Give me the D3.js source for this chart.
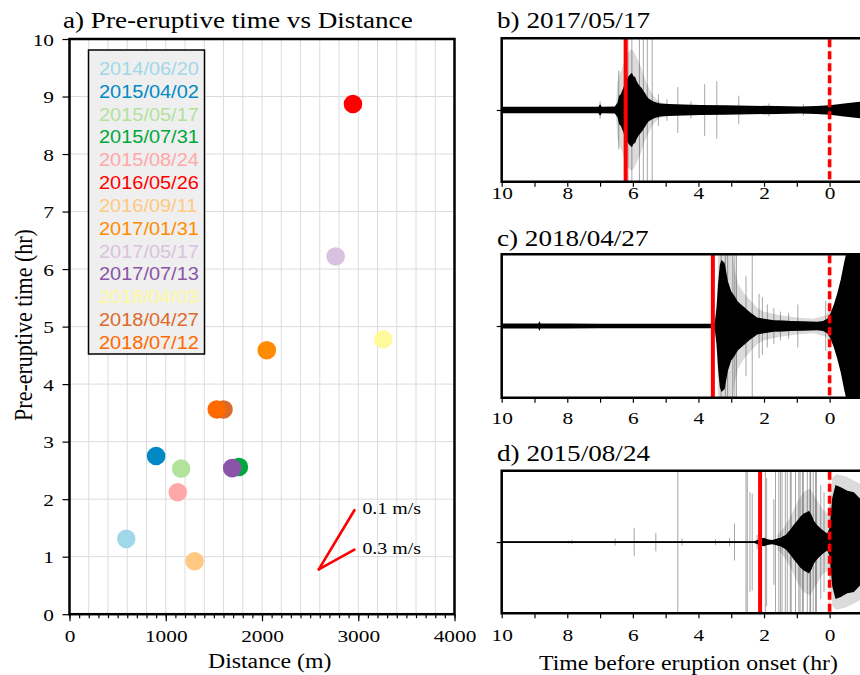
<!DOCTYPE html>
<html>
<head>
<meta charset="utf-8">
<script src="https://cdn.jsdelivr.net/npm/d3@7"></script>
<style>
  body { margin: 0; background: #fff; }
  svg { display: block; }
</style>
</head>
<body>
<div id="chart"></div>
<script>
// --- data: eruptions (panel a) ---
const dates = ["2014/06/20", "2015/04/02", "2015/05/17", "2015/07/31", "2015/08/24", "2016/05/26", "2016/09/11",
               "2017/01/31", "2017/05/17", "2017/07/13", "2018/04/03", "2018/04/27", "2018/07/12"];
const distances = [590, 900, 1160, 1760, 1125, 2945, 1300, 2050, 2765, 1690, 3260, 1600, 1530]; // m
const preTimes = [1.31, 2.75, 2.53, 2.56, 2.12, 8.87, 0.92, 4.59, 6.22, 2.54, 4.78, 3.56, 3.56]; // hr
const colors = ["#a0d8ea", "#0089c4", "#b3e29c", "#00a83a", "#ffa8a8", "#ff0000", "#ffc981",
                "#ff8c00", "#d9c2df", "#8a54a8", "#fffa9c", "#dc6a2a", "#ff6a00"];

// reference velocity lines
const velocities = [0.1, 0.3]; // m/s
const velLabels = ["0.1 m/s", "0.3 m/s"];
const velStart = [2590, 0.78]; // [m, hr]
const velRun = 370; // m

const distTicks = [0, 1000, 2000, 3000, 4000];
const timeTicks = [0, 1, 2, 3, 4, 5, 6, 7, 8, 9, 10];
const traceTicks = [10, 8, 6, 4, 2, 0];

// --- data: seismograms, [hours before onset, relative amplitude] ---
const bEnvelope = [[10, 0.045], [9, 0.045], [8, 0.045], [7.05, 0.045], [7.0, 0.08], [6.95, 0.045], [6.55, 0.05],
  [6.47, 0.1], [6.42, 0.2], [6.37, 0.22], [6.3, 0.3], [6.22, 0.4], [6.13, 0.47], [6.08, 0.5], [6.03, 0.52],
  [5.98, 0.47], [5.93, 0.46], [5.88, 0.4], [5.83, 0.36], [5.78, 0.33], [5.72, 0.3], [5.67, 0.26], [5.62, 0.23],
  [5.57, 0.19], [5.52, 0.16], [5.45, 0.14], [5.37, 0.12], [5.25, 0.1], [5.16, 0.09], [4.9, 0.085], [4.45, 0.075],
  [3.94, 0.07], [3.2, 0.065], [2.41, 0.06], [1.6, 0.055], [0.89, 0.05], [0.4, 0.055], [0, 0.065], [-0.2, 0.075],
  [-0.44, 0.09], [-0.65, 0.1], [-0.85, 0.11], [-1, 0.12]];
const bHalo = [[6.52, 0.05], [6.47, 0.4], [6.42, 0.5], [6.35, 0.55], [6.25, 0.7], [6.15, 0.8], [6.05, 0.85],
  [5.95, 0.8], [5.85, 0.7], [5.75, 0.6], [5.65, 0.45], [5.55, 0.35], [5.45, 0.25], [5.35, 0.18], [5.2, 0.12], [5.0, 0.08]];
const bSpikes = [[7.0, 0.12], [6.43, 0.55], [6.15, 1], [6.03, 1], [5.8, 1], [5.68, 1], [5.56, 1], [5.41, 1],
  [5.22, 0.22], [4.96, 0.15], [4.63, 0.32], [4.23, 0.12], [3.81, 0.36], [3.44, 0.4], [2.77, 0.2], [1.85, 0.09], [0.8, 0.08]];

const cEnvelope = [[10, 0.035], [9, 0.035], [8.88, 0.035], [8.85, 0.07], [8.82, 0.035], [8, 0.035], [7, 0.03],
  [6, 0.03], [5, 0.03], [4, 0.03], [3.55, 0.03], [3.5, 0.06], [3.45, 0.25], [3.4, 0.6], [3.35, 0.85], [3.3, 0.92],
  [3.2, 0.88], [3.1, 0.62], [3.0, 0.48], [2.9, 0.42], [2.8, 0.34], [2.7, 0.3], [2.6, 0.26], [2.5, 0.22], [2.4, 0.18],
  [2.3, 0.15], [2.21, 0.12], [2.0, 0.1], [1.7, 0.08], [1.4, 0.075], [1.19, 0.07], [0.8, 0.065], [0.38, 0.06],
  [0.2, 0.07], [0.07, 0.1], [-0.03, 0.18], [-0.13, 0.3], [-0.23, 0.45], [-0.34, 0.65], [-0.44, 0.88], [-0.5, 1], [-1, 1]];
const cHalo = [[3.47, 0.1], [3.43, 0.45], [3.4, 1], [2.95, 1], [2.9, 0.8], [2.8, 0.6], [2.6, 0.45], [2.4, 0.35],
  [2.2, 0.25], [2.0, 0.2], [1.5, 0.15], [1.0, 0.12], [0.5, 0.1], [0.1, 0.15], [0, 0.25]];
const cSpikes = [[3.31, 1], [3.18, 1], [3.11, 1], [2.95, 1], [2.89, 1], [2.84, 1], [2.55, 0.7], [2.36, 1],
  [2.15, 0.45], [2.05, 0.4], [1.9, 0.3], [1.7, 0.25], [1.5, 0.2], [1.25, 0.18], [0.97, 0.3], [0.12, 0.35]];

const dEnvelope = [[10, 0.012], [2.3, 0.012], [2.2, 0.03], [2.1, 0.05], [2.0, 0.06], [1.9, 0.04], [1.75, 0.03],
  [1.6, 0.05], [1.5, 0.06], [1.42, 0.08], [1.34, 0.1], [1.19, 0.18], [1.1, 0.24], [0.99, 0.3], [0.89, 0.36],
  [0.79, 0.4], [0.7, 0.42], [0.63, 0.44], [0.55, 0.38], [0.48, 0.3], [0.38, 0.24], [0.27, 0.19], [0.17, 0.15],
  [0.07, 0.12], [0.0, 0.2], [-0.08, 0.62], [-0.18, 0.8], [-0.34, 0.77], [-0.54, 0.72], [-0.74, 0.7], [-0.95, 0.6], [-1, 0.6]];
const dHalo = [[1.6, 0.1], [1.4, 0.2], [1.2, 0.35], [1.0, 0.55], [0.8, 0.7], [0.6, 0.75], [0.4, 0.6], [0.2, 0.45],
  [0.05, 0.4], [0, 0.5], [-0.08, 0.9], [-0.2, 0.95], [-0.5, 0.92], [-0.8, 0.85], [-1, 0.8]];
const dSpikes = [[7.97, 0.02], [7.86, 0.03], [6.54, 0.05], [5.96, 0.2], [5.3, 0.13], [4.63, 1], [4.5, 0.05],
  [3.48, 0.04], [3.05, 0.06], [2.9, 0.26], [2.55, 1], [2.51, 1], [2.43, 0.7], [2.36, 0.68], [2.21, 0.1], [1.96, 1],
  [1.92, 0.9], [1.7, 0.6], [1.65, 1], [1.55, 1], [1.5, 1], [1.45, 1], [1.35, 1], [1.29, 1], [1.2, 1], [1.17, 1],
  [1.04, 1], [0.94, 1], [0.9, 1], [0.83, 1], [0.8, 1], [0.68, 1], [0.6, 1], [0.58, 1], [0.5, 1], [0.43, 1],
  [0.4, 1], [0.27, 0.8], [0.17, 0.7]];

const serif = "'Liberation Serif', 'Times New Roman', serif";
const sans = "'Liberation Sans', Arial, sans-serif";

// the reference lettering is a bit wider than Times, so widen the glyphs
function stretch(sel, k) {
  sel.each(function () {
    const w = this.getComputedTextLength();
    d3.select(this).attr("textLength", w * k).attr("lengthAdjust", "spacingAndGlyphs");
  });
}

const svg = d3.select("#chart").append("svg")
  .attr("width", 860)
  .attr("height", 675)
  .style("overflow", "hidden");

// ================= panel a =================
const x = d3.scaleLinear().domain([0, 4000]).range([69.5, 454.5]);
const y = d3.scaleLinear().domain([0, 10]).range([614.2, 39]);

const pa = svg.append("g");

// grid
pa.append("g").selectAll("line").data(d3.range(200, 4000, 200)).join("line")
  .attr("x1", d => x(d)).attr("x2", d => x(d))
  .attr("y1", y(0)).attr("y2", y(10))
  .attr("stroke", "#dcdcdc").attr("stroke-width", 1);
pa.append("g").selectAll("line").data(timeTicks.slice(1, -1)).join("line")
  .attr("x1", x(0)).attr("x2", x(4000))
  .attr("y1", d => y(d)).attr("y2", d => y(d))
  .attr("stroke", "#dcdcdc").attr("stroke-width", 1);

// axes
const xMinor = pa.append("g").attr("transform", `translate(0,${y(0)})`)
  .call(d3.axisBottom(x).tickValues(d3.range(0, 4001, 100)).tickSize(4).tickFormat(""));
const xMajor = pa.append("g").attr("transform", `translate(0,${y(0)})`)
  .call(d3.axisBottom(x).tickValues(distTicks).tickSize(7).tickFormat(d3.format("d")));
const yAxis = pa.append("g").attr("transform", `translate(${x(0)},0)`)
  .call(d3.axisLeft(y).tickValues(timeTicks).tickSize(7).tickFormat(d3.format("d")));
[xMinor, xMajor, yAxis].forEach(g => {
  g.select(".domain").remove();
  g.selectAll("line").attr("stroke", "#000").attr("stroke-width", 1.2);
  g.selectAll("text").attr("font-family", serif).attr("font-size", 17.5).attr("fill", "#000");
});
xMajor.selectAll("text").attr("y", 27.5).attr("dy", 0);
yAxis.selectAll("text").attr("x", -15.5).attr("dy", "0.35em");
stretch(xMajor.selectAll("text"), 1.22);
stretch(yAxis.selectAll("text"), 1.22);

// frame
pa.append("rect")
  .attr("x", x(0)).attr("y", y(10))
  .attr("width", x(4000) - x(0)).attr("height", y(0) - y(10))
  .attr("fill", "none").attr("stroke", "#000").attr("stroke-width", 2.5);

// legend
pa.append("rect")
  .attr("x", 88.5).attr("y", 50).attr("width", 116).attr("height", 304)
  .attr("fill", "#efefef").attr("stroke", "#000").attr("stroke-width", 1.5);
const legendText = pa.append("g").selectAll("text").data(dates).join("text")
  .attr("x", 99)
  .attr("y", (d, i) => 75 + i * 22.83)
  .attr("font-family", sans).attr("font-size", 17.5)
  .attr("fill", (d, i) => colors[i])
  .text(d => d);
stretch(legendText, 1.14);

// points
pa.append("g").selectAll("circle").data(dates).join("circle")
  .attr("cx", (d, i) => x(distances[i]))
  .attr("cy", (d, i) => y(preTimes[i]))
  .attr("r", 9.3)
  .attr("fill", (d, i) => colors[i]);

// velocity reference lines
const velEnd = velocities.map(v => [velStart[0] + velRun, velStart[1] + velRun / (v * 3600)]);
pa.append("g").selectAll("line").data(velEnd).join("line")
  .attr("x1", x(velStart[0])).attr("y1", y(velStart[1]))
  .attr("x2", d => x(d[0])).attr("y2", d => y(d[1]))
  .attr("stroke", "#ff0000").attr("stroke-width", 2.6).attr("stroke-linecap", "round");
const velText = pa.append("g").selectAll("text").data(velEnd).join("text")
  .attr("x", d => x(d[0]) + 8)
  .attr("y", d => y(d[1]) + 4)
  .attr("font-family", serif).attr("font-size", 17)
  .text((d, i) => velLabels[i]);
stretch(velText, 1.17);

// titles and labels
stretch(pa.append("text").attr("x", 63).attr("y", 28.3)
  .attr("font-family", serif).attr("font-size", 23)
  .text("a) Pre-eruptive time vs Distance"), 1.18);
stretch(pa.append("text").attr("x", 269.7).attr("y", 668)
  .attr("text-anchor", "middle")
  .attr("font-family", serif).attr("font-size", 20.5)
  .text("Distance (m)"), 1.16);
pa.append("text")
  .attr("transform", "translate(31.5,325) scale(1.17,1) rotate(-90)")
  .attr("text-anchor", "middle")
  .attr("font-family", serif).attr("font-size", 22)
  .text("Pre-eruptive time (hr)");

// ================= panels b-d =================
const panels = [
  { tag: "b)", date: "2017/05/17", env: bEnvelope, halo: bHalo, spikes: bSpikes, top: 38.3, bottom: 181.7, titleY: 28.3, labelY: 199.3 },
  { tag: "c)", date: "2018/04/27", env: cEnvelope, halo: cHalo, spikes: cSpikes, top: 254.3, bottom: 397.7, titleY: 246, labelY: 424 },
  { tag: "d)", date: "2015/08/24", env: dEnvelope, halo: dHalo, spikes: dSpikes, top: 470.8, bottom: 613.3, titleY: 460.7, labelY: 640.7 }
];

const tx = d3.scaleLinear().domain([10, -1]).range([501.7, 862.4]);

panels.forEach((p, k) => {
  const ty = d3.scaleLinear().domain([-1, 1]).range([p.bottom, p.top]);
  const g = svg.append("g");
  const clipId = "clip" + k;
  g.append("clipPath").attr("id", clipId).append("rect")
    .attr("x", tx(10)).attr("y", p.top)
    .attr("width", tx(-1) - tx(10)).attr("height", p.bottom - p.top);
  const body = g.append("g").attr("clip-path", `url(#${clipId})`);

  const area = d3.area()
    .x(d => tx(d[0]))
    .y0(d => ty(-d[1]))
    .y1(d => ty(d[1]));

  body.append("path").datum(p.halo).attr("d", area).attr("fill", "#000").attr("fill-opacity", 0.14);
  body.append("g").selectAll("line").data(p.spikes).join("line")
    .attr("x1", d => tx(d[0])).attr("x2", d => tx(d[0]))
    .attr("y1", d => ty(-d[1])).attr("y2", d => ty(d[1]))
    .attr("stroke", "#000").attr("stroke-opacity", 0.35).attr("stroke-width", 1);
  body.append("line")
    .attr("x1", tx(10)).attr("x2", tx(-1)).attr("y1", ty(0)).attr("y2", ty(0))
    .attr("stroke", "#000").attr("stroke-width", 1);
  body.append("path").datum(p.env).attr("d", area).attr("fill", "#000");

  // picked onset (pre-eruptive time) and eruption onset
  const onset = preTimes[dates.indexOf(p.date)];
  body.append("line")
    .attr("x1", tx(onset)).attr("x2", tx(onset)).attr("y1", p.top).attr("y2", p.bottom)
    .attr("stroke", "#ff0000").attr("stroke-width", 4);
  body.append("line")
    .attr("x1", tx(0)).attr("x2", tx(0)).attr("y1", p.top).attr("y2", p.bottom)
    .attr("stroke", "#ff0000").attr("stroke-opacity", 0.15).attr("stroke-width", 1.5);
  body.append("line")
    .attr("x1", tx(0)).attr("x2", tx(0)).attr("y1", p.top + 1).attr("y2", p.bottom)
    .attr("stroke", "#ff0000").attr("stroke-width", 3.6).attr("stroke-dasharray", "8,4");

  // frame (top, bottom, left)
  g.append("path")
    .attr("d", `M${tx(-1) + 5},${p.top}H${tx(10)}V${p.bottom}H${tx(-1) + 5}`)
    .attr("fill", "none").attr("stroke", "#000").attr("stroke-width", 2.5);

  const minor = g.append("g").attr("transform", `translate(0,${p.bottom})`)
    .call(d3.axisBottom(tx).tickValues([9, 7, 5, 3, 1]).tickSize(5).tickFormat(""));
  const major = g.append("g").attr("transform", `translate(0,${p.bottom})`)
    .call(d3.axisBottom(tx).tickValues(traceTicks).tickSize(5).tickFormat(d3.format("d")));
  const left = g.append("g").attr("transform", `translate(${tx(10)},0)`)
    .call(d3.axisLeft(ty).tickValues([0]).tickSize(5).tickFormat(""));
  [minor, major, left].forEach(a => {
    a.select(".domain").remove();
    a.selectAll("line").attr("stroke", "#000").attr("stroke-width", 1.2);
  });
  major.selectAll("text")
    .attr("y", p.labelY - p.bottom).attr("dy", 0)
    .attr("font-family", serif).attr("font-size", 17.5).attr("fill", "#000");
  stretch(major.selectAll("text"), 1.22);

  stretch(g.append("text").attr("x", 497).attr("y", p.titleY)
    .attr("font-family", serif).attr("font-size", 23)
    .text(`${p.tag} ${p.date}`), 1.18);
});

stretch(svg.append("text").attr("x", 688.5).attr("y", 669.5)
  .attr("text-anchor", "middle")
  .attr("font-family", serif).attr("font-size", 20.5)
  .text("Time before eruption onset (hr)"), 1.16);
</script>
</body>
</html>
